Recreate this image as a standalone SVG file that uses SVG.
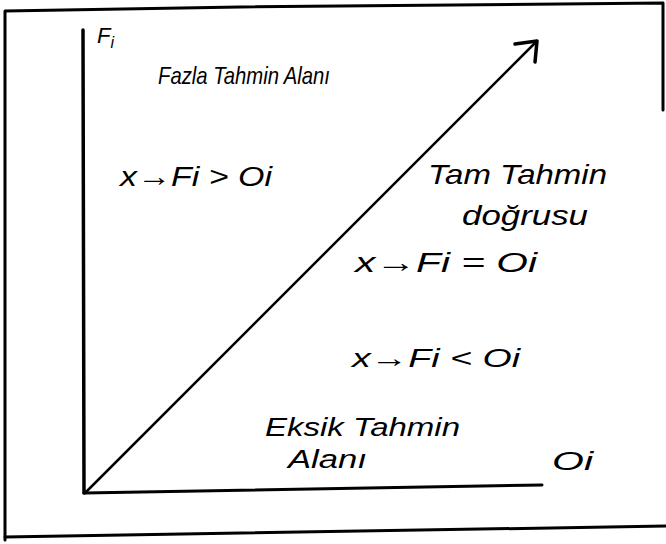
<svg xmlns="http://www.w3.org/2000/svg" width="666" height="544" viewBox="0 0 666 544">
<style>
.ln{fill:none;stroke:#000;stroke-linecap:round;stroke-linejoin:round}
.t{font-family:"Liberation Sans","DejaVu Sans",sans-serif;font-style:italic;fill:#000}
</style>
<rect width="666" height="544" fill="#fff"/>
<g id="frame">
<polyline class="ln" stroke-width="3" points="5,540 5,11 240,7 663,3 663,110"/>
<line class="ln" stroke-width="3" x1="5" y1="537" x2="666" y2="526"/>
</g>
<g id="connectors">
<line id="y-axis" class="ln" stroke-width="3.5" x1="83" y1="30" x2="84" y2="493"/>
<line id="x-axis" class="ln" stroke-width="3" x1="84" y1="493" x2="542" y2="485"/>
<line id="diagonal" class="ln" stroke-width="2.5" x1="85" y1="493" x2="537" y2="41"/>
<polyline class="ln" stroke-width="3.5" points="515,44 537,41 535,62"/>
</g>
<g id="label-fi"><text class="t" x="97" y="43" font-size="22">F<tspan font-size="16" dy="5">i</tspan></text></g>
<g id="fazla"><text class="t" x="158" y="84" font-size="24" textLength="172" lengthAdjust="spacingAndGlyphs">Fazla Tahmin Alanı</text></g>
<g id="cond-gt"><text class="t" x="120" y="186" font-size="28" textLength="152" lengthAdjust="spacingAndGlyphs">x→Fi &gt; Oi</text></g>
<g id="tam"><text class="t" x="428" y="184" font-size="28" textLength="179" lengthAdjust="spacingAndGlyphs">Tam Tahmin</text>
<text class="t" x="462" y="225" font-size="28" textLength="126" lengthAdjust="spacingAndGlyphs">doğrusu</text></g>
<g id="cond-eq"><text class="t" x="355" y="272" font-size="28" textLength="182" lengthAdjust="spacingAndGlyphs">x→Fi = Oi</text></g>
<g id="cond-lt"><text class="t" x="352" y="367" font-size="26" textLength="168" lengthAdjust="spacingAndGlyphs">x→Fi &lt; Oi</text></g>
<g id="eksik"><text class="t" x="265" y="436" font-size="26" textLength="195" lengthAdjust="spacingAndGlyphs">Eksik Tahmin</text>
<text class="t" x="288" y="468" font-size="26" textLength="79" lengthAdjust="spacingAndGlyphs">Alanı</text></g>
<g id="label-oi"><text class="t" x="552" y="470" font-size="26" textLength="41" lengthAdjust="spacingAndGlyphs">Oi</text></g>
</svg>
